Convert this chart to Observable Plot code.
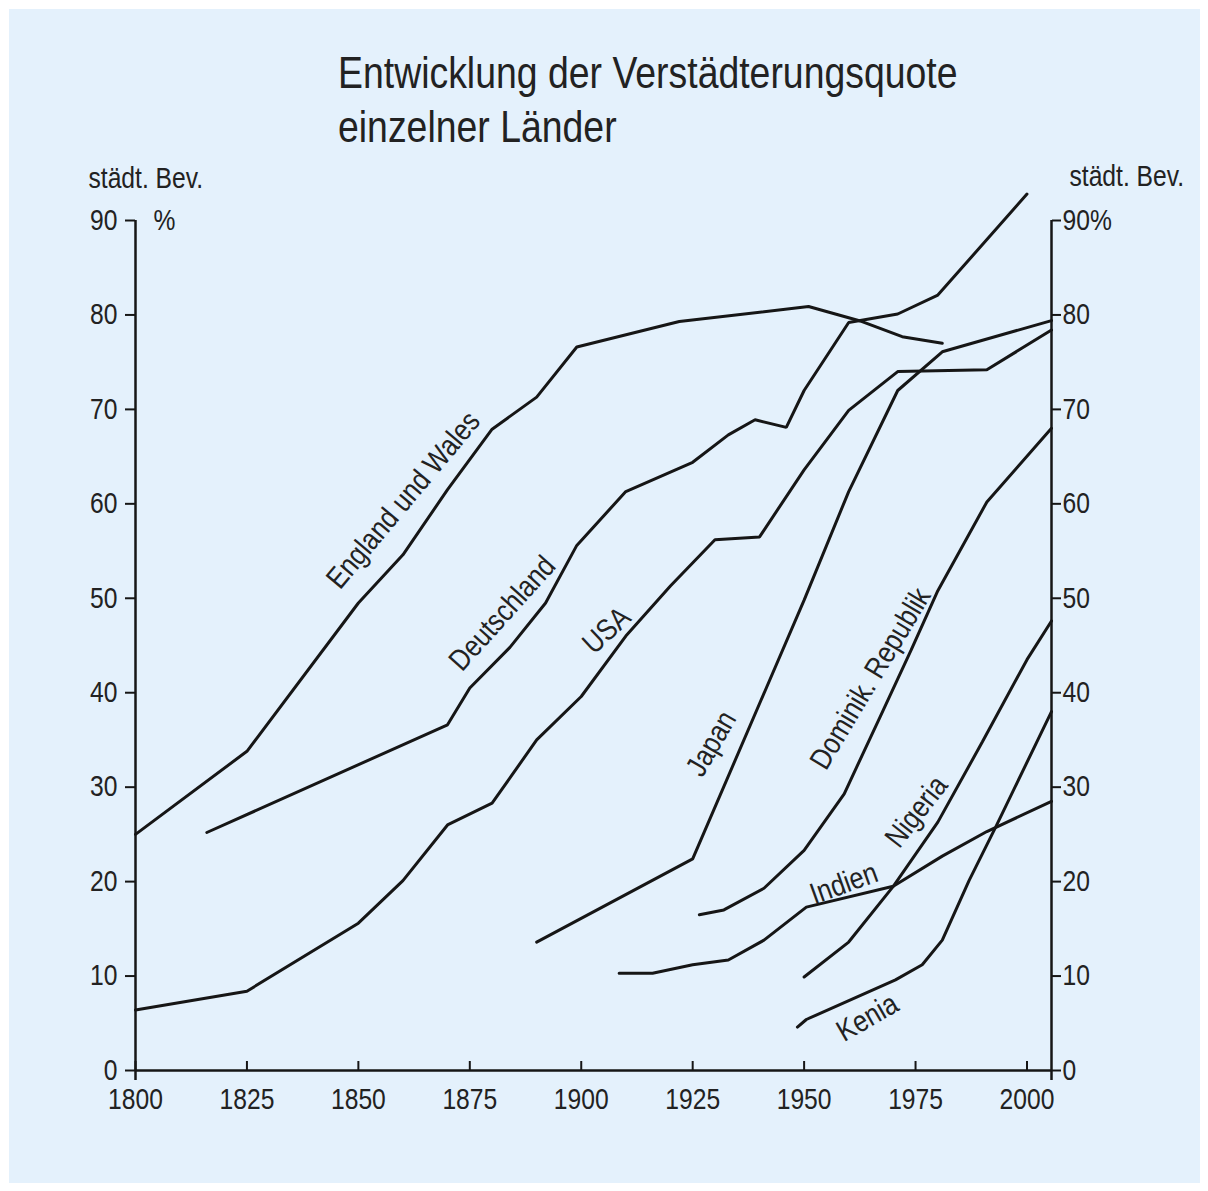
<!DOCTYPE html>
<html>
<head>
<meta charset="utf-8">
<script src="https://cdn.jsdelivr.net/npm/d3@7"></script>
<script src="https://cdn.jsdelivr.net/npm/@observablehq/plot@0.6"></script>
<style>
  html, body { margin: 0; padding: 0; background: #ffffff; }
  #page { position: relative; width: 1208px; height: 1191px; overflow: hidden; background: #ffffff; }
  #panel { position: absolute; left: 9px; top: 9px; width: 1191px; height: 1174px; background: #e4f1fc; }
  #chart { position: absolute; left: 0; top: 0; }
  .title { position: absolute; left: 338px; color: #222; line-height: 1; white-space: nowrap;
           font-family: 'Liberation Sans', Arial, Helvetica, sans-serif; font-size: 44px;
           transform: scaleX(0.85); transform-origin: 0 0; }
</style>
</head>
<body>
<div id="page">
  <div id="panel"></div>
  <div class="title" style="top:51px">Entwicklung der Verstädterungsquote</div>
  <div class="title" style="top:105px">einzelner Länder</div>
  <div id="chart"></div>
</div>
<script>
// ---- data (year, % urban population) ----
const englandWales = [[1800,25.0],[1825,33.8],[1850,49.5],[1860,54.6],[1870,61.5],[1880,67.9],[1890,71.3],[1899,76.6],[1922,79.3],[1951,80.9],[1963,79.3],[1972,77.7],[1981,77.0]];
const deutschland = [[1816,25.2],[1870,36.6],[1875,40.5],[1884,44.8],[1892,49.5],[1899,55.6],[1910,61.3],[1925,64.4],[1933,67.3],[1939,68.9],[1946,68.1],[1950,72.0],[1960,79.2],[1971,80.1],[1980,82.1],[2000,92.8]];
const usa = [[1800,6.4],[1825,8.4],[1850,15.6],[1860,20.1],[1870,26.0],[1880,28.3],[1890,35.0],[1900,39.6],[1910,46.0],[1920,51.3],[1930,56.2],[1940,56.5],[1950,63.6],[1960,69.9],[1971,74.0],[1991,74.2],[2005.5,78.4]];
const japan = [[1890,13.6],[1925,22.4],[1950,49.8],[1960,61.3],[1971,72.0],[1981,76.1],[2005.5,79.4]];
const dominikRepublik = [[1926.5,16.5],[1932,17.0],[1941,19.3],[1950,23.3],[1959,29.3],[1967,37.4],[1974,44.5],[1980,50.8],[1991,60.2],[2005.5,68.0]];
const indien = [[1908.5,10.3],[1916,10.3],[1925,11.2],[1933,11.7],[1941,13.8],[1950.5,17.3],[1970,19.5],[1981,22.7],[1991,25.3],[2005.5,28.5]];
const nigeria = [[1950,9.9],[1960,13.6],[1970,19.5],[1980,26.3],[1990,34.8],[2000,43.5],[2005.5,47.6]];
const kenia = [[1948.5,4.6],[1950.5,5.4],[1970.5,9.6],[1976.5,11.2],[1981,13.8],[1987,20.1],[1993,25.8],[2005.5,38.0]];

const seriesNames = ["England und Wales","Deutschland","USA","Japan","Dominik. Republik","Indien","Nigeria","Kenia"];
const seriesData = [englandWales, deutschland, usa, japan, dominikRepublik, indien, nigeria, kenia];

// label anchor points (year, %)
const labelYears  = [1860.1, 1882.3, 1905.7, 1929.2, 1964.9, 1958.9, 1975.2, 1964.2];
const labelValues = [60.4, 48.4, 46.6, 34.6, 41.5, 19.8, 27.4, 5.6];
const labelAngles = [-50, -48, -43, -60, -59, -20, -52, -30];

const xDomain = [1800, 2005.5];
const yDomain = [0, 90];
const xTicks = [1800, 1825, 1850, 1875, 1900, 1925, 1950, 1975, 2000];
const yTicks = [0, 10, 20, 30, 40, 50, 60, 70, 80, 90];
const axisTitle = "städt. Bev.";

// ---- build table ----
const rows = seriesNames.flatMap((name, i) => seriesData[i].map(([year, value]) => ({name, year, value})));
const labels = seriesNames.map((name, i) => ({name, year: labelYears[i], value: labelValues[i], angle: labelAngles[i]}));

const ink = "#161616";
const font = "'Liberation Sans', Arial, Helvetica, sans-serif";
const tickFont = 29;
const labelFont = 30;

const chart = Plot.plot({
  width: 1208,
  height: 1191,
  marginLeft: 135,
  marginRight: 157,
  marginTop: 220,
  marginBottom: 121,
  x: {domain: xDomain},
  y: {domain: yDomain},
  style: {background: "transparent", fontFamily: font, color: "#222", overflow: "visible"},
  marks: [
    Plot.ruleY([0], {stroke: ink, strokeWidth: 2.5}),
    Plot.ruleX(xDomain, {stroke: ink, strokeWidth: 2.5, insetBottom: -10}),
    Plot.axisX(xTicks, {tickSize: -9, tickPadding: 27, tickFormat: d => String(d), fontSize: tickFont, label: null, strokeWidth: 2, stroke: ink, fill: "#222"}),
    Plot.axisY(yTicks, {anchor: "left", tickSize: 10, tickPadding: 8, label: null, fontSize: tickFont, strokeWidth: 2, stroke: ink, fill: "#222"}),
    Plot.axisY(yTicks, {anchor: "right", tickSize: 9, tickPadding: 2, tickFormat: d => d === 90 ? "90%" : String(d), label: null, fontSize: tickFont, strokeWidth: 2, stroke: ink, fill: "#222"}),
    Plot.line(rows, {x: "year", y: "value", z: "name", stroke: ink, strokeWidth: 3, strokeLinejoin: "miter"}),
    Plot.text(labels, {x: "year", y: "value", text: "name", rotate: d => d.angle, fontSize: labelFont, fill: "#222"}),
    Plot.text([axisTitle], {x: xDomain[0], y: yDomain[1], dx: -47, dy: -42, textAnchor: "start", fontSize: tickFont, fill: "#222"}),
    Plot.text([axisTitle], {x: xDomain[1], y: yDomain[1], dx: 18, dy: -44, textAnchor: "start", fontSize: tickFont, fill: "#222"}),
    Plot.text(["%"], {x: xDomain[0], y: yDomain[1], dx: 18, textAnchor: "start", fontSize: tickFont, fill: "#222"})
  ]
});

// condense the lettering horizontally, like the narrow face of the original
chart.querySelectorAll("text").forEach(t => {
  const tr = t.getAttribute("transform") || "";
  t.setAttribute("transform", (tr + " scale(0.85,1)").trim());
});

document.getElementById("chart").appendChild(chart);
</script>
</body>
</html>
